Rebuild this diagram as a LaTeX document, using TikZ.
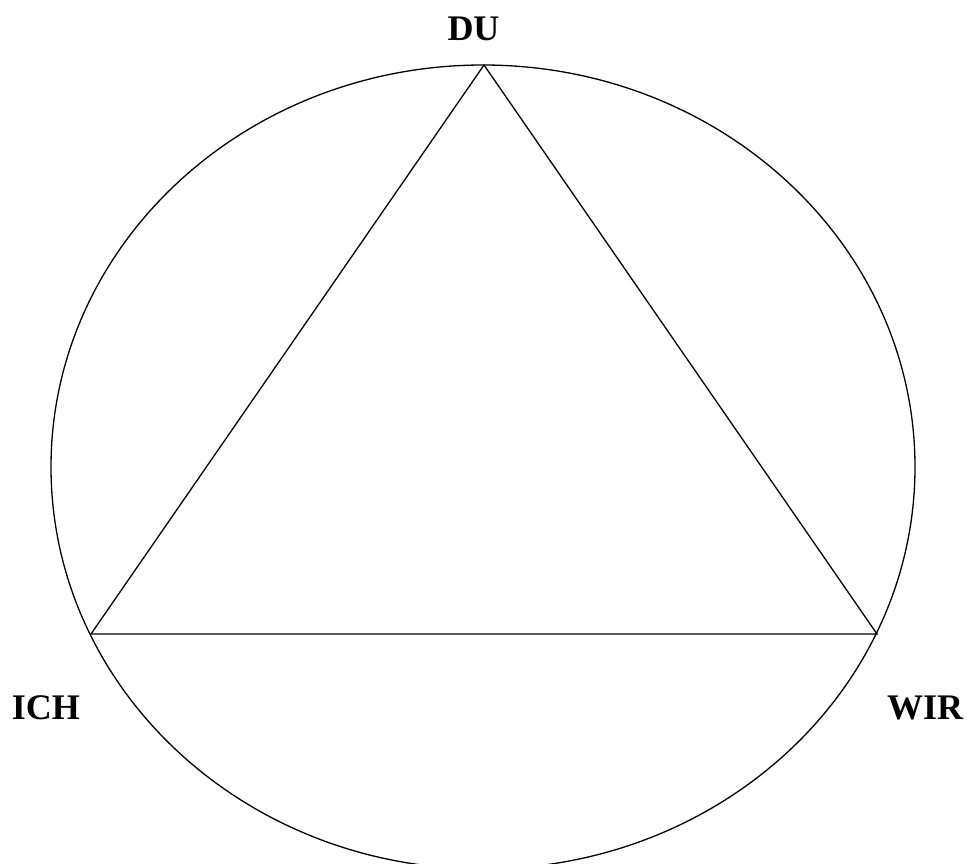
\documentclass[tikz,border=0pt]{standalone}
\usepackage{fontspec}
\setmainfont{Liberation Serif}
\begin{document}
\begin{tikzpicture}[x=1pt,y=-1pt,
  lbl/.style={inner sep=0pt,font=\fontsize{36}{40}\selectfont\bfseries},
  line/.style={line width=1.3pt}]
\useasboundingbox (0,0) rectangle (967,864);
\begin{scope}
\clip (0,0) rectangle (967,864);
\draw[line] (483,467) ellipse [x radius=432, y radius=402];
\end{scope}
\coordinate (top) at (484,65);
\coordinate (left) at (91,634);
\coordinate (right) at (877,634);
\draw[line,line join=miter] (top) -- (left) -- (right) -- cycle;
\node[lbl] (du) at (473.5,28.5) {DU};
\node[lbl] (ich) at (46,707.5) {ICH};
\node[lbl] (wir) at (925,707.5) {WIR};
\end{tikzpicture}
\end{document}
